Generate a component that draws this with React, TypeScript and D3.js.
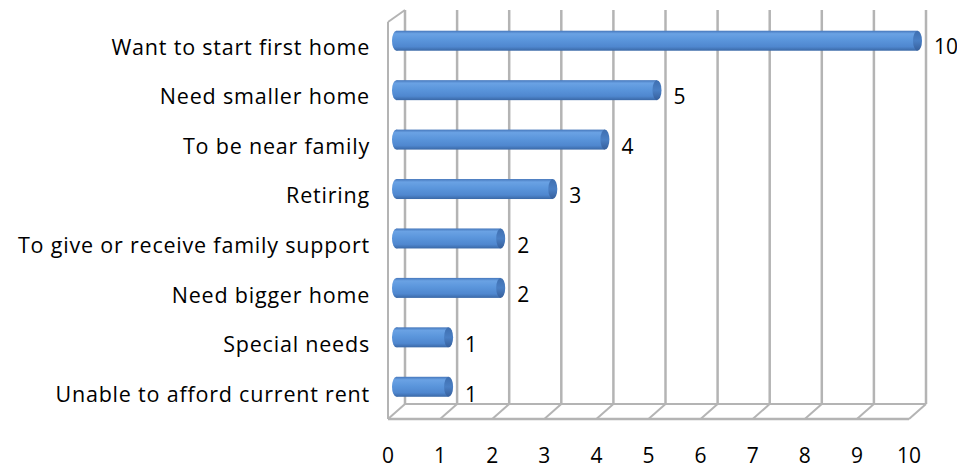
import React from "react";
import * as d3 from "d3";

const categories = [
  "Want to start first home",
  "Need smaller home",
  "To be near family",
  "Retiring",
  "To give or receive family support",
  "Need bigger home",
  "Special needs",
  "Unable to afford current rent",
];
const values = [10, 5, 4, 3, 2, 2, 1, 1];
const ticks = [0, 1, 2, 3, 4, 5, 6, 7, 8, 9, 10];

const W = 957;
const H = 470;
const FONT = "'Open Sans', 'Noto Sans', sans-serif";

export default function App() {
  // front plane
  const xFront = d3.scaleLinear().domain([0, 10]).range([388, 909]);
  // back wall plane
  const xBack = d3.scaleLinear().domain([0, 10]).range([405, 926]);
  // mid plane (bars)
  const xMid = d3.scaleLinear().domain([0, 10]).range([396.5, 917.5]);

  const backTop = 10, backBottom = 404;
  const frontTop = 22, frontBottom = 419;

  const yFront = d3.scaleBand<string>().domain(categories).range([frontTop, frontBottom]);
  const yMid = d3.scaleBand<string>().domain(categories).range([16, 411.5]);

  const barH = 20;
  const capRx = 4.5;
  const grid = "#b4b4b4";

  return (
    <svg width={W} height={H} style={{ position: "absolute", left: 0, top: 0, background: "#fff" }}>
      <defs>
        <linearGradient id="barGrad" x1="0" y1="0" x2="0" y2="1">
          <stop offset="0" stopColor="#4677bb" />
          <stop offset="0.15" stopColor="#6aa2e4" />
          <stop offset="0.45" stopColor="#5b96dc" />
          <stop offset="0.8" stopColor="#4f87cf" />
          <stop offset="1" stopColor="#3a68a6" />
        </linearGradient>
        <linearGradient id="capGrad" x1="0" y1="0" x2="0" y2="1">
          <stop offset="0" stopColor="#3f6fb0" />
          <stop offset="0.5" stopColor="#4a7fc4" />
          <stop offset="1" stopColor="#365f9c" />
        </linearGradient>
      </defs>

      {/* back wall gridlines */}
      {ticks.map((t) => (
        <line key={"g" + t} x1={xBack(t)} x2={xBack(t)} y1={backTop} y2={backBottom} stroke={grid} strokeWidth={2.5} />
      ))}
      {/* floor */}
      <line x1={xBack(0)} x2={xBack(10)} y1={backBottom} y2={backBottom} stroke={grid} strokeWidth={2} />
      <line x1={xFront(0)} x2={xFront(10)} y1={frontBottom} y2={frontBottom} stroke={grid} strokeWidth={2.5} />
      {ticks.map((t) => (
        <line key={"f" + t} x1={xBack(t)} x2={xFront(t)} y1={backBottom} y2={frontBottom} stroke={grid} strokeWidth={2} />
      ))}
      {/* left wall */}
      <line x1={xFront(0)} x2={xFront(0)} y1={frontTop} y2={frontBottom} stroke={grid} strokeWidth={2} />
      <line x1={xFront(0)} x2={xBack(0)} y1={frontTop} y2={backTop} stroke={grid} strokeWidth={2} />

      {/* bars */}
      {categories.map((c, i) => {
        const cy = (yMid(c) as number) + yMid.bandwidth() / 2;
        const x0 = xMid(0);
        const x1 = xMid(values[i]);
        return (
          <g key={"b" + i}>
            <ellipse cx={x0} cy={cy} rx={capRx} ry={barH / 2} fill="url(#barGrad)" />
            <rect x={x0} y={cy - barH / 2} width={x1 - x0} height={barH} fill="url(#barGrad)" />
            <ellipse cx={x1} cy={cy} rx={capRx} ry={barH / 2} fill="url(#capGrad)" />
          </g>
        );
      })}

      {/* value labels */}
      {categories.map((c, i) => {
        const cy = (yFront(c) as number) + yFront.bandwidth() / 2;
        return (
          <text key={"v" + i} x={xMid(values[i]) + capRx + 12} y={cy} dy="0.36em" fontFamily={FONT} fontSize={21} fill="#000">
            {values[i]}
          </text>
        );
      })}

      {/* category labels */}
      {categories.map((c) => {
        const cy = (yFront(c) as number) + yFront.bandwidth() / 2;
        return (
          <text key={"c" + c} x={370} y={cy} dy="0.36em" textAnchor="end" fontFamily={FONT} fontSize={21.5} letterSpacing={0.8} fill="#000">
            {c}
          </text>
        );
      })}

      {/* x tick labels */}
      {ticks.map((t) => (
        <text key={"t" + t} x={xFront(t)} y={455} dy="0.36em" textAnchor="middle" fontFamily={FONT} fontSize={21} fill="#000">
          {t}
        </text>
      ))}
    </svg>
  );
}
